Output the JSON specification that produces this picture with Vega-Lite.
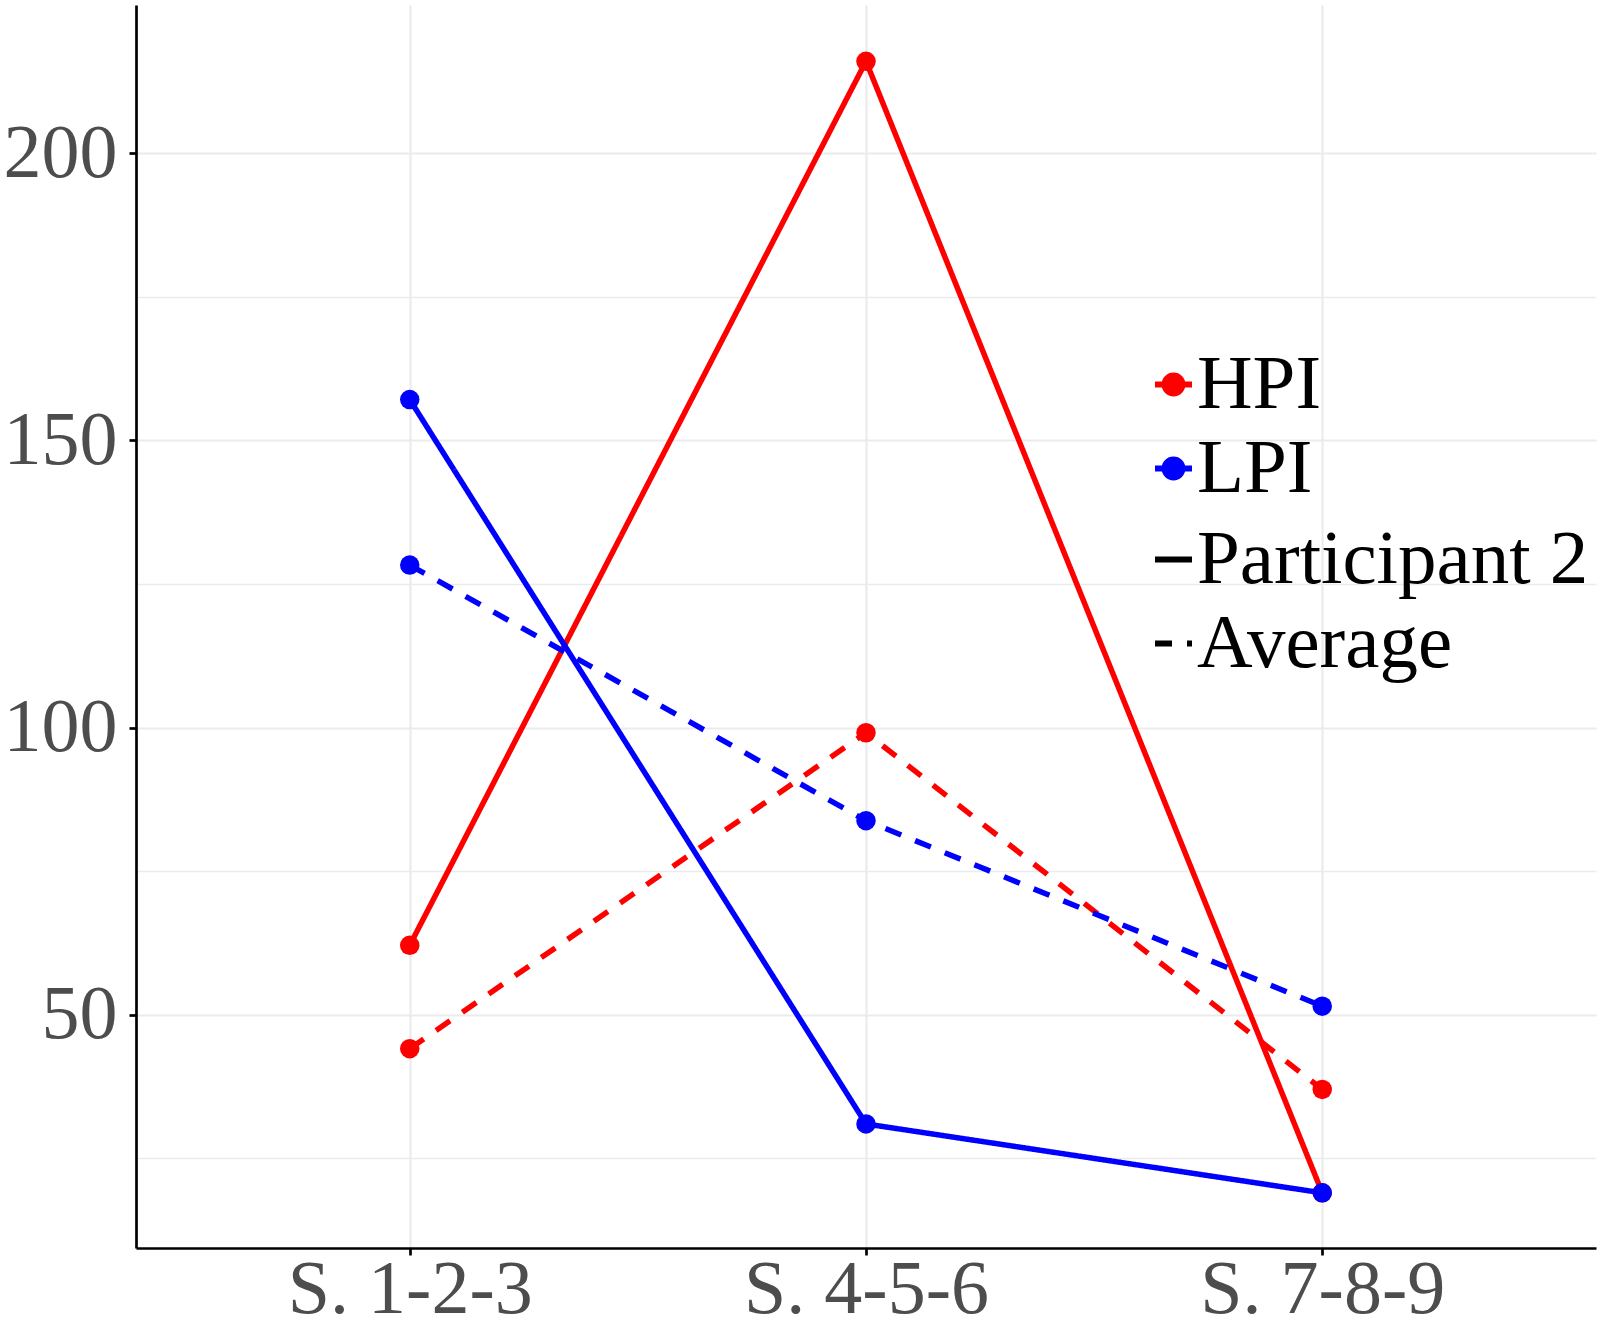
{
  "$schema": "https://vega.github.io/schema/vega-lite/v6.json",
  "width": 1460,
  "height": 1243,
  "autosize": {"type": "none"},
  "padding": {"left": 136, "top": 5, "right": 6, "bottom": 74},
  "background": "white",
  "data": {
    "values": [
      {"group": "HPI", "kind": "Participant 2", "session": "S. 1-2-3", "value": 62.1},
      {"group": "HPI", "kind": "Participant 2", "session": "S. 4-5-6", "value": 216.0},
      {"group": "HPI", "kind": "Participant 2", "session": "S. 7-8-9", "value": 19.0},
      {"group": "LPI", "kind": "Participant 2", "session": "S. 1-2-3", "value": 157.1},
      {"group": "LPI", "kind": "Participant 2", "session": "S. 4-5-6", "value": 31.0},
      {"group": "LPI", "kind": "Participant 2", "session": "S. 7-8-9", "value": 19.0},
      {"group": "HPI", "kind": "Average", "session": "S. 1-2-3", "value": 44.1},
      {"group": "HPI", "kind": "Average", "session": "S. 4-5-6", "value": 99.1},
      {"group": "HPI", "kind": "Average", "session": "S. 7-8-9", "value": 37.0},
      {"group": "LPI", "kind": "Average", "session": "S. 1-2-3", "value": 128.3},
      {"group": "LPI", "kind": "Average", "session": "S. 4-5-6", "value": 83.8},
      {"group": "LPI", "kind": "Average", "session": "S. 7-8-9", "value": 51.5}
    ]
  },
  "encoding": {
    "x": {
      "field": "session",
      "type": "nominal",
      "scale": {"type": "point", "padding": 0.6},
      "axis": {
        "title": null,
        "labelAngle": 0,
        "labelPadding": -3,
        "labelLimit": 1000,
        "grid": true,
        "gridColor": "#EBEBEB",
        "gridWidth": 2.2
      }
    },
    "y": {
      "field": "value",
      "type": "quantitative",
      "scale": {"domain": [9.4, 225.8], "nice": false, "zero": false},
      "axis": {
        "title": null,
        "values": [25, 50, 75, 100, 125, 150, 175, 200],
        "labelExpr": "datum.value % 50 === 0 ? datum.label : ''",
        "labelPadding": 12,
        "grid": true,
        "gridColor": "#EBEBEB",
        "gridWidth": {"condition": {"test": "datum.value % 50 === 0", "value": 2.2}, "value": 1.3},
        "tickOpacity": {"condition": {"test": "datum.value % 50 === 0", "value": 1}, "value": 0}
      }
    }
  },
  "layer": [
    {
      "mark": {"type": "line", "strokeWidth": 5.5},
      "encoding": {
        "color": {
          "field": "group",
          "type": "nominal",
          "scale": {"domain": ["HPI", "LPI"], "range": ["#FF0000", "#0000FF"]},
          "legend": {
            "title": null,
            "orient": "none",
            "legendX": 999,
            "legendY": 341,
            "symbolType": "M-1,0H1M-0.48,0A0.48,0.48,0,1,1,0.48,0A0.48,0.48,0,1,1,-0.48,0Z",
            "symbolSize": 1369,
            "symbolStrokeWidth": 6,
            "symbolOpacity": 1,
            "labelOffset": -15,
            "rowPadding": 6,
            "encode": {"symbols": {"update": {"fill": {"scale": "color", "field": "value"}}}}
          }
        },
        "strokeDash": {
          "field": "kind",
          "type": "nominal",
          "scale": {"domain": ["Participant 2", "Average"], "range": [[1, 0], [17, 15]]},
          "legend": {
            "title": null,
            "orient": "none",
            "legendX": 999,
            "legendY": 516,
            "symbolType": "stroke",
            "symbolSize": 1369,
            "symbolStrokeWidth": 6,
            "symbolStrokeColor": "black",
            "symbolFillColor": "transparent",
            "labelOffset": -15,
            "rowPadding": 6
          }
        }
      }
    },
    {
      "mark": {"type": "point", "filled": true, "opacity": 1, "size": 380},
      "encoding": {
        "color": {"field": "group", "type": "nominal"}
      }
    }
  ],
  "config": {
    "view": {"stroke": null},
    "font": "Liberation Serif",
    "axis": {
      "labelFont": "Liberation Serif",
      "labelFontSize": 76,
      "labelColor": "#4D4D4D",
      "domainColor": "black",
      "domainWidth": 2.7,
      "tickColor": "black",
      "tickWidth": 2.7,
      "tickSize": 7
    },
    "legend": {
      "labelFont": "Liberation Serif",
      "labelFontSize": 77,
      "labelColor": "black",
      "padding": 0,
      "labelLimit": 600
    }
  }
}
